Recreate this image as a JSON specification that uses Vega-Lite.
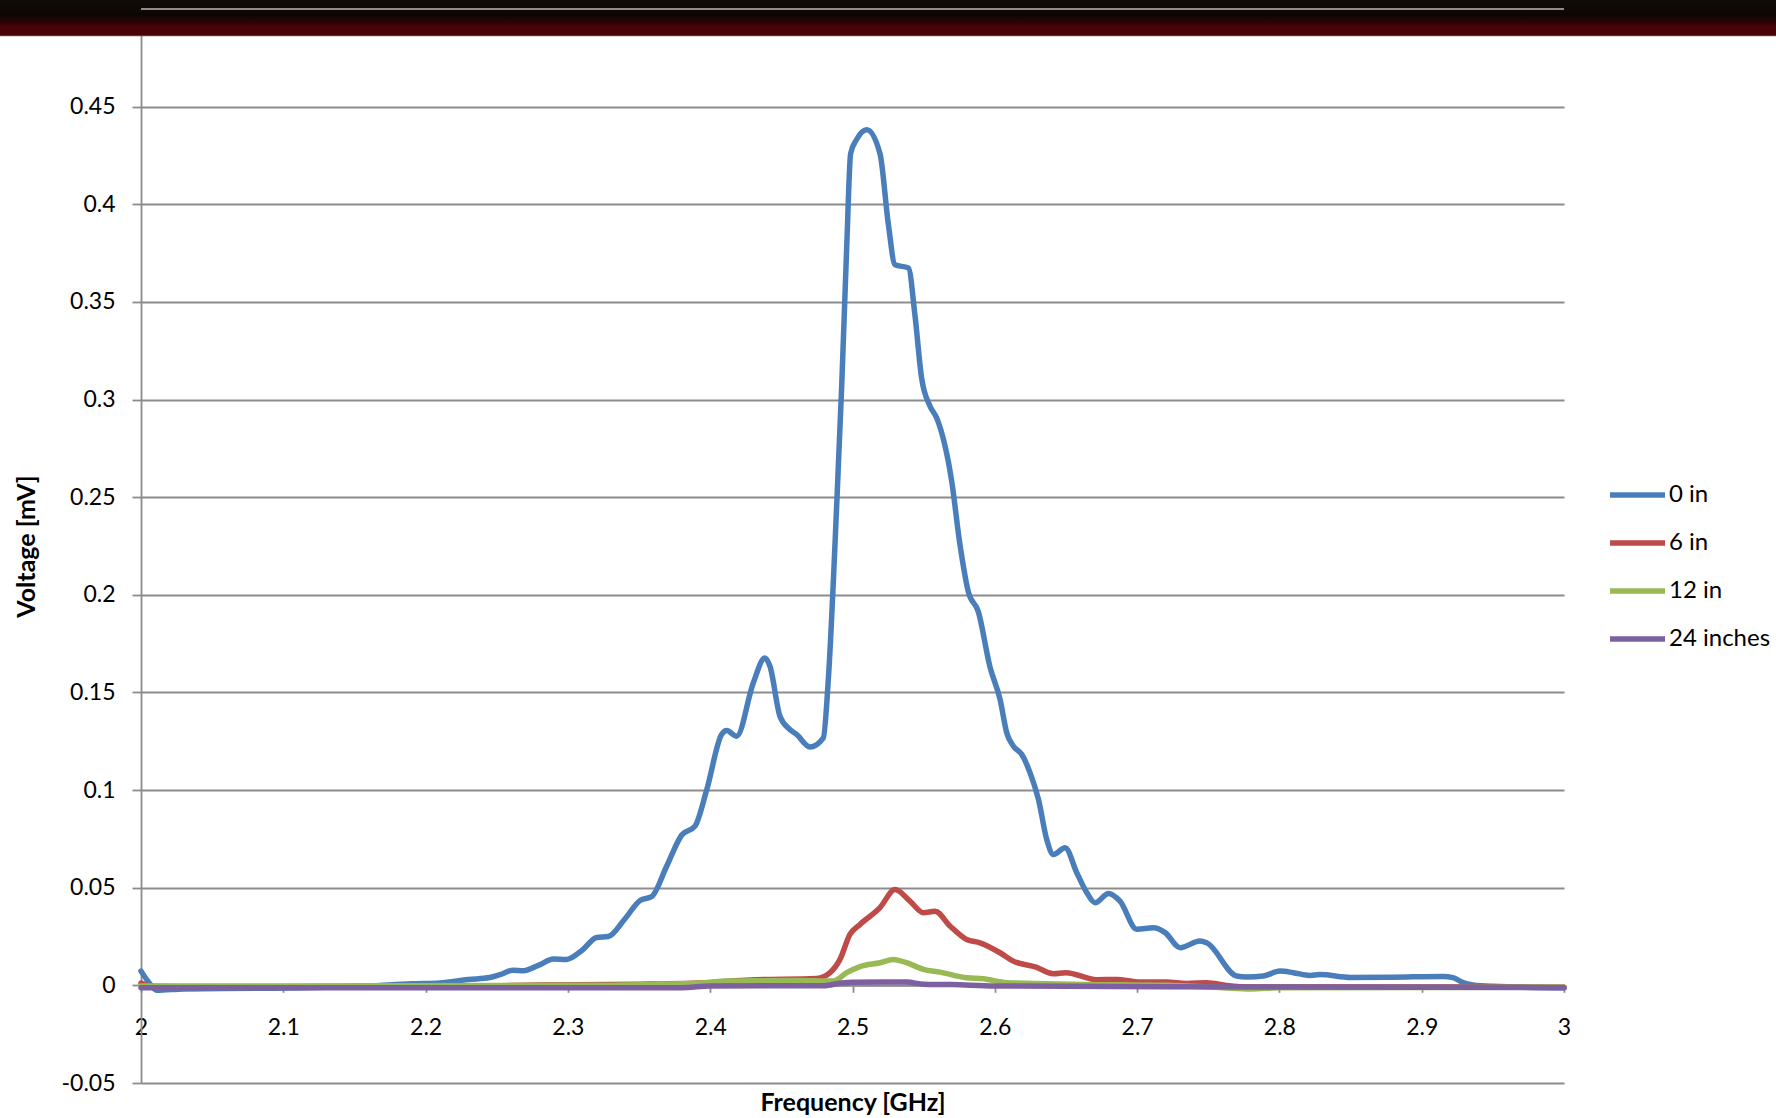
{
  "$schema": "https://vega.github.io/schema/vega-lite/v6.json",
  "width": 1423,
  "height": 1074,
  "autosize": {"type": "none"},
  "padding": {"left": 141, "top": 9, "right": 212, "bottom": 35},
  "background": "white",
  "config": {
    "view": {"stroke": null},
    "font": "Lato",
    "axis": {
      "labelFont": "Lato",
      "labelFontSize": 23,
      "labelColor": "#000000",
      "titleFont": "Lato",
      "titleFontSize": 25,
      "titleFontWeight": "bold",
      "titleColor": "#000000",
      "domainColor": "#8c8c8c",
      "domainWidth": 1.8,
      "tickColor": "#8c8c8c",
      "tickWidth": 1.8,
      "gridColor": "#8c8c8c",
      "gridWidth": 1.8,
      "gridOpacity": 1
    },
    "legend": {
      "labelFont": "Lato",
      "labelFontSize": 24,
      "labelColor": "#000000"
    }
  },
  "datasets": {
    "voltage": [
      {"series": "0 in", "freq": 2.000, "v": 0.0073},
      {"series": "0 in", "freq": 2.005, "v": 0.0020},
      {"series": "0 in", "freq": 2.011, "v": -0.0025},
      {"series": "0 in", "freq": 2.030, "v": -0.0018},
      {"series": "0 in", "freq": 2.080, "v": -0.0015},
      {"series": "0 in", "freq": 2.130, "v": -0.0010},
      {"series": "0 in", "freq": 2.160, "v": -0.0003},
      {"series": "0 in", "freq": 2.190, "v": 0.0008},
      {"series": "0 in", "freq": 2.210, "v": 0.0012},
      {"series": "0 in", "freq": 2.230, "v": 0.0030},
      {"series": "0 in", "freq": 2.245, "v": 0.0040},
      {"series": "0 in", "freq": 2.2523, "v": 0.0055},
      {"series": "0 in", "freq": 2.2616, "v": 0.0078},
      {"series": "0 in", "freq": 2.2687, "v": 0.0075},
      {"series": "0 in", "freq": 2.280, "v": 0.0105},
      {"series": "0 in", "freq": 2.2898, "v": 0.0135},
      {"series": "0 in", "freq": 2.2992, "v": 0.0133},
      {"series": "0 in", "freq": 2.310, "v": 0.0180},
      {"series": "0 in", "freq": 2.3202, "v": 0.0245},
      {"series": "0 in", "freq": 2.3284, "v": 0.0250},
      {"series": "0 in", "freq": 2.340, "v": 0.0340},
      {"series": "0 in", "freq": 2.3507, "v": 0.0435},
      {"series": "0 in", "freq": 2.3589, "v": 0.0455},
      {"series": "0 in", "freq": 2.3694, "v": 0.0610},
      {"series": "0 in", "freq": 2.380, "v": 0.0770},
      {"series": "0 in", "freq": 2.3893, "v": 0.0815},
      {"series": "0 in", "freq": 2.3975, "v": 0.1000},
      {"series": "0 in", "freq": 2.408, "v": 0.1285},
      {"series": "0 in", "freq": 2.4115, "v": 0.1305},
      {"series": "0 in", "freq": 2.4186, "v": 0.1276},
      {"series": "0 in", "freq": 2.4303, "v": 0.1550},
      {"series": "0 in", "freq": 2.4385, "v": 0.1677},
      {"series": "0 in", "freq": 2.442, "v": 0.1634},
      {"series": "0 in", "freq": 2.449, "v": 0.1378},
      {"series": "0 in", "freq": 2.456, "v": 0.1310},
      {"series": "0 in", "freq": 2.4607, "v": 0.1285},
      {"series": "0 in", "freq": 2.4701, "v": 0.1221},
      {"series": "0 in", "freq": 2.4795, "v": 0.1268},
      {"series": "0 in", "freq": 2.483, "v": 0.1566},
      {"series": "0 in", "freq": 2.4889, "v": 0.2460},
      {"series": "0 in", "freq": 2.4924, "v": 0.3067},
      {"series": "0 in", "freq": 2.4959, "v": 0.3775},
      {"series": "0 in", "freq": 2.4987, "v": 0.4260},
      {"series": "0 in", "freq": 2.5029, "v": 0.4332},
      {"series": "0 in", "freq": 2.510, "v": 0.4382},
      {"series": "0 in", "freq": 2.5193, "v": 0.4260},
      {"series": "0 in", "freq": 2.5252, "v": 0.3897},
      {"series": "0 in", "freq": 2.5299, "v": 0.3690},
      {"series": "0 in", "freq": 2.5393, "v": 0.3674},
      {"series": "0 in", "freq": 2.5439, "v": 0.3431},
      {"series": "0 in", "freq": 2.5486, "v": 0.3108},
      {"series": "0 in", "freq": 2.5545, "v": 0.2966},
      {"series": "0 in", "freq": 2.5592, "v": 0.2905},
      {"series": "0 in", "freq": 2.5697, "v": 0.2582},
      {"series": "0 in", "freq": 2.5755, "v": 0.2258},
      {"series": "0 in", "freq": 2.5814, "v": 0.2015},
      {"series": "0 in", "freq": 2.5884, "v": 0.1914},
      {"series": "0 in", "freq": 2.5966, "v": 0.1631},
      {"series": "0 in", "freq": 2.6037, "v": 0.1464},
      {"series": "0 in", "freq": 2.6084, "v": 0.1293},
      {"series": "0 in", "freq": 2.6131, "v": 0.1225},
      {"series": "0 in", "freq": 2.619, "v": 0.1182},
      {"series": "0 in", "freq": 2.6248, "v": 0.1088},
      {"series": "0 in", "freq": 2.6307, "v": 0.0952},
      {"series": "0 in", "freq": 2.6365, "v": 0.0747},
      {"series": "0 in", "freq": 2.6412, "v": 0.0670},
      {"series": "0 in", "freq": 2.6494, "v": 0.0705},
      {"series": "0 in", "freq": 2.6576, "v": 0.0577},
      {"series": "0 in", "freq": 2.6647, "v": 0.0474},
      {"series": "0 in", "freq": 2.6705, "v": 0.0423},
      {"series": "0 in", "freq": 2.6799, "v": 0.0471},
      {"series": "0 in", "freq": 2.688, "v": 0.0431},
      {"series": "0 in", "freq": 2.6998, "v": 0.0287},
      {"series": "0 in", "freq": 2.7114, "v": 0.0295},
      {"series": "0 in", "freq": 2.7197, "v": 0.0270},
      {"series": "0 in", "freq": 2.7302, "v": 0.0193},
      {"series": "0 in", "freq": 2.7442, "v": 0.0227},
      {"series": "0 in", "freq": 2.7489, "v": 0.0218},
      {"series": "0 in", "freq": 2.770, "v": 0.0048},
      {"series": "0 in", "freq": 2.777, "v": 0.0043},
      {"series": "0 in", "freq": 2.7887, "v": 0.0048},
      {"series": "0 in", "freq": 2.8004, "v": 0.0073},
      {"series": "0 in", "freq": 2.8098, "v": 0.0065},
      {"series": "0 in", "freq": 2.8215, "v": 0.0051},
      {"series": "0 in", "freq": 2.8285, "v": 0.0055},
      {"series": "0 in", "freq": 2.850, "v": 0.0040},
      {"series": "0 in", "freq": 2.880, "v": 0.0042},
      {"series": "0 in", "freq": 2.915, "v": 0.0046},
      {"series": "0 in", "freq": 2.922, "v": 0.0040},
      {"series": "0 in", "freq": 2.929, "v": 0.0014},
      {"series": "0 in", "freq": 2.936, "v": 0.0002},
      {"series": "0 in", "freq": 2.950, "v": -0.0005},
      {"series": "0 in", "freq": 3.000, "v": -0.0012},

      {"series": "6 in", "freq": 2.000, "v": 0.0012},
      {"series": "6 in", "freq": 2.008, "v": -0.0005},
      {"series": "6 in", "freq": 2.050, "v": -0.0008},
      {"series": "6 in", "freq": 2.200, "v": -0.0006},
      {"series": "6 in", "freq": 2.280, "v": 0.0002},
      {"series": "6 in", "freq": 2.350, "v": 0.0006},
      {"series": "6 in", "freq": 2.400, "v": 0.0015},
      {"series": "6 in", "freq": 2.428, "v": 0.0028},
      {"series": "6 in", "freq": 2.4748, "v": 0.0035},
      {"series": "6 in", "freq": 2.4842, "v": 0.0065},
      {"series": "6 in", "freq": 2.4912, "v": 0.0133},
      {"series": "6 in", "freq": 2.4982, "v": 0.0261},
      {"series": "6 in", "freq": 2.5053, "v": 0.0312},
      {"series": "6 in", "freq": 2.5193, "v": 0.0398},
      {"series": "6 in", "freq": 2.5299, "v": 0.0491},
      {"series": "6 in", "freq": 2.5404, "v": 0.0431},
      {"series": "6 in", "freq": 2.5498, "v": 0.0372},
      {"series": "6 in", "freq": 2.558, "v": 0.0380},
      {"series": "6 in", "freq": 2.5685, "v": 0.0304},
      {"series": "6 in", "freq": 2.5802, "v": 0.0235},
      {"series": "6 in", "freq": 2.5896, "v": 0.0218},
      {"series": "6 in", "freq": 2.6037, "v": 0.0167},
      {"series": "6 in", "freq": 2.613, "v": 0.0124},
      {"series": "6 in", "freq": 2.629, "v": 0.0093},
      {"series": "6 in", "freq": 2.641, "v": 0.0060},
      {"series": "6 in", "freq": 2.650, "v": 0.0065},
      {"series": "6 in", "freq": 2.6716, "v": 0.0029},
      {"series": "6 in", "freq": 2.6856, "v": 0.0030},
      {"series": "6 in", "freq": 2.702, "v": 0.0017},
      {"series": "6 in", "freq": 2.7207, "v": 0.0017},
      {"series": "6 in", "freq": 2.735, "v": 0.0010},
      {"series": "6 in", "freq": 2.749, "v": 0.0014},
      {"series": "6 in", "freq": 2.763, "v": 0.0000},
      {"series": "6 in", "freq": 2.780, "v": -0.0008},
      {"series": "6 in", "freq": 2.900, "v": -0.0008},
      {"series": "6 in", "freq": 3.000, "v": -0.0010},

      {"series": "12 in", "freq": 2.000, "v": -0.0003},
      {"series": "12 in", "freq": 2.100, "v": -0.0003},
      {"series": "12 in", "freq": 2.300, "v": 0.0000},
      {"series": "12 in", "freq": 2.358, "v": 0.0005},
      {"series": "12 in", "freq": 2.400, "v": 0.0015},
      {"series": "12 in", "freq": 2.410, "v": 0.0022},
      {"series": "12 in", "freq": 2.428, "v": 0.0023},
      {"series": "12 in", "freq": 2.460, "v": 0.0025},
      {"series": "12 in", "freq": 2.4865, "v": 0.0022},
      {"series": "12 in", "freq": 2.496, "v": 0.0065},
      {"series": "12 in", "freq": 2.5053, "v": 0.0096},
      {"series": "12 in", "freq": 2.5193, "v": 0.0116},
      {"series": "12 in", "freq": 2.5287, "v": 0.0133},
      {"series": "12 in", "freq": 2.538, "v": 0.0116},
      {"series": "12 in", "freq": 2.5498, "v": 0.0082},
      {"series": "12 in", "freq": 2.5615, "v": 0.0068},
      {"series": "12 in", "freq": 2.5802, "v": 0.0039},
      {"series": "12 in", "freq": 2.5919, "v": 0.0034},
      {"series": "12 in", "freq": 2.6084, "v": 0.0014},
      {"series": "12 in", "freq": 2.627, "v": 0.0010},
      {"series": "12 in", "freq": 2.662, "v": 0.0005},
      {"series": "12 in", "freq": 2.720, "v": 0.0000},
      {"series": "12 in", "freq": 2.760, "v": -0.0012},
      {"series": "12 in", "freq": 2.780, "v": -0.0018},
      {"series": "12 in", "freq": 2.800, "v": -0.0012},
      {"series": "12 in", "freq": 3.000, "v": -0.0010},

      {"series": "24 inches", "freq": 2.000, "v": -0.0012},
      {"series": "24 inches", "freq": 2.200, "v": -0.0012},
      {"series": "24 inches", "freq": 2.380, "v": -0.0012},
      {"series": "24 inches", "freq": 2.400, "v": -0.0003},
      {"series": "24 inches", "freq": 2.480, "v": -0.0002},
      {"series": "24 inches", "freq": 2.492, "v": 0.0012},
      {"series": "24 inches", "freq": 2.500, "v": 0.0016},
      {"series": "24 inches", "freq": 2.538, "v": 0.0017},
      {"series": "24 inches", "freq": 2.550, "v": 0.0006},
      {"series": "24 inches", "freq": 2.570, "v": 0.0004},
      {"series": "24 inches", "freq": 2.600, "v": -0.0003},
      {"series": "24 inches", "freq": 2.800, "v": -0.0008},
      {"series": "24 inches", "freq": 3.000, "v": -0.0012}
    ]
  },
  "layer": [
    {
      "description": "Dark slide header strip running across the top edge",
      "data": {"values": [{}]},
      "mark": {
        "type": "rect",
        "clip": false,
        "fill": {
          "gradient": "linear",
          "x1": 0, "y1": 0, "x2": 0, "y2": 1,
          "stops": [
            {"offset": 0, "color": "#17100b"},
            {"offset": 0.55, "color": "#0b0604"},
            {"offset": 0.7, "color": "#2c0205"},
            {"offset": 0.8, "color": "#4a0307"},
            {"offset": 0.96, "color": "#4a0307"},
            {"offset": 1, "color": "#6e5a5a"}
          ]
        }
      },
      "encoding": {
        "x": {"datum": 1.89, "type": "quantitative", "scale": {"domain": [2, 3], "nice": false}},
        "x2": {"datum": 3.16},
        "y": {"datum": 0.486, "type": "quantitative", "scale": {"domain": [-0.05, 0.5], "nice": false, "zero": false}},
        "y2": {"datum": 0.51}
      }
    },
    {
      "description": "Top gridline at 0.5, shown over the header strip",
      "data": {"values": [{}]},
      "mark": {"type": "rule", "stroke": "#8c8c8c", "strokeWidth": 1.8},
      "encoding": {
        "y": {"datum": 0.5, "type": "quantitative"},
        "x": {"datum": 2, "type": "quantitative"},
        "x2": {"datum": 3}
      }
    },
    {
      "data": {"name": "voltage"},
      "mark": {
        "type": "line",
        "interpolate": "monotone",
        "strokeWidth": 5.5,
        "strokeCap": "round",
        "strokeJoin": "round"
      },
      "encoding": {
        "x": {
          "field": "freq",
          "type": "quantitative",
          "scale": {"domain": [2, 3], "nice": false},
          "axis": {
            "values": [2, 2.1, 2.2, 2.3, 2.4, 2.5, 2.6, 2.7, 2.8, 2.9, 3],
            "labelExpr": "datum.value + ''",
            "grid": false,
            "offset": -97.7,
            "tickSize": 7,
            "labelPadding": 24,
            "labelFlush": false,
            "labelOverlap": false,
            "title": "Frequency [GHz]",
            "titlePadding": 51
          }
        },
        "y": {
          "field": "v",
          "type": "quantitative",
          "scale": {"domain": [-0.05, 0.5], "nice": false, "zero": false},
          "axis": {
            "values": [-0.05, 0, 0.05, 0.1, 0.15, 0.2, 0.25, 0.3, 0.35, 0.4, 0.45, 0.5],
            "labelExpr": "datum.value + ''",
            "grid": true,
            "tickSize": 9,
            "labelPadding": 17,
            "labelFlush": false,
            "labelOverlap": false,
            "title": "Voltage [mV]",
            "titlePadding": 22
          }
        },
        "color": {
          "field": "series",
          "type": "nominal",
          "scale": {
            "domain": ["0 in", "6 in", "12 in", "24 inches"],
            "range": ["#4a7ebb", "#be4b48", "#98b954", "#7d60a0"]
          },
          "legend": {
            "title": null,
            "orient": "none",
            "legendX": 1466,
            "legendY": 462,
            "symbolType": "stroke",
            "symbolSize": 3025,
            "symbolStrokeWidth": 5.5,
            "labelOffset": 1,
            "clipHeight": 48,
            "rowPadding": 0
          }
        }
      }
    }
  ]
}
